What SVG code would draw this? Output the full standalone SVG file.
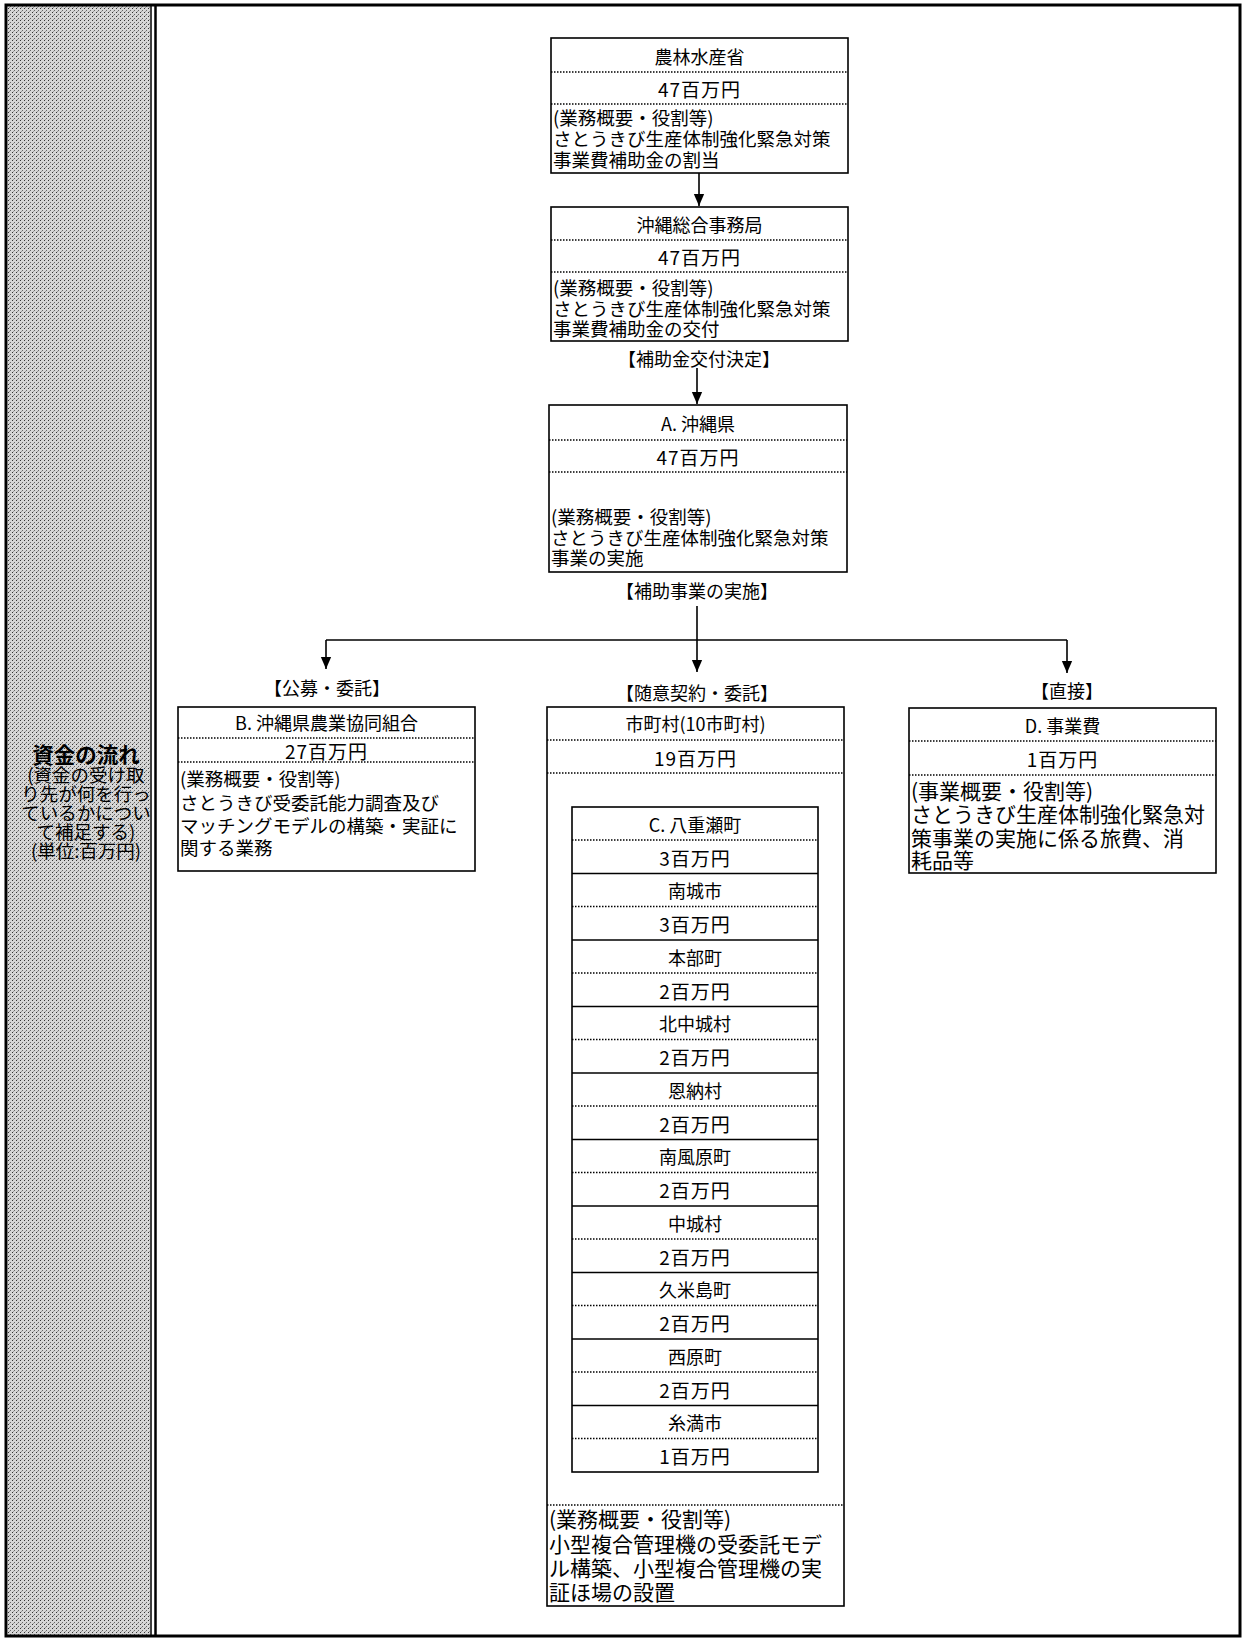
<svg xmlns="http://www.w3.org/2000/svg" width="1245" height="1641" viewBox="0 0 1245 1641">
<defs>
<pattern id="halftone" width="4" height="4" patternUnits="userSpaceOnUse">
<rect width="4" height="4" fill="#d6d6d6"/>
<rect x="0" y="0" width="1" height="1" fill="#333"/>
<rect x="2" y="2" width="1" height="1" fill="#666"/>
<rect x="1" y="3" width="1" height="1" fill="#999"/>
</pattern>
<marker id="arrd" markerUnits="userSpaceOnUse" markerWidth="12" markerHeight="14" viewBox="0 0 14 12" refX="14" refY="6" orient="auto">
<path d="M0,0 L14,6 L0,12 Z" fill="#000"/>
</marker>
</defs>
<style>
.box{fill:#fff;stroke:#000;stroke-width:1.6}
.dot{stroke:#000;stroke-width:1.3;stroke-dasharray:1.5 1.5;fill:none}
.sep{stroke:#000;stroke-width:1.6;fill:none}
.con{stroke:#000;stroke-width:1.6;fill:none}
text{font-family:"Noto Sans CJK JP","Noto Sans CJK SC",sans-serif;fill:#000}
.t{font-size:18px;text-anchor:middle;dominant-baseline:central}
.m{font-size:19px;text-anchor:middle;dominant-baseline:central;letter-spacing:1px}
.d{font-size:18.5px;dominant-baseline:central}
.dl{font-size:21px;dominant-baseline:central}
.lab{font-size:18px;text-anchor:middle;dominant-baseline:central}
.side{font-size:18.5px;text-anchor:middle;dominant-baseline:central}
</style>
<rect width="1245" height="1641" fill="#fff"/>
<g id="frame">
<rect x="8" y="6" width="142" height="1629" fill="url(#halftone)"/>
<rect x="6" y="5" width="1234" height="1631" fill="none" stroke="#000" stroke-width="3"/>
<line x1="151" y1="5" x2="151" y2="1636" stroke="#000" stroke-width="1.5"/>
<line x1="155.5" y1="5" x2="155.5" y2="1636" stroke="#000" stroke-width="2.5"/>
</g>
<g id="side-label">
<text class="side" x="86" y="753" style="font-weight:bold;font-size:21.5px">資金の流れ</text>
<text class="side" x="86" y="774">(資金の受け取</text>
<text class="side" x="86" y="793">り先が何を行っ</text>
<text class="side" x="86" y="812">ているかについ</text>
<text class="side" x="86" y="831">て補足する)</text>
<text class="side" x="86" y="850">(単位:百万円)</text>
</g>
<g id="connectors">
<line class="con" x1="699" y1="173" x2="699" y2="206" marker-end="url(#arrd)"/>
<line class="con" x1="697" y1="368" x2="697" y2="404" marker-end="url(#arrd)"/>
<line class="con" x1="697" y1="606" x2="697" y2="672" marker-end="url(#arrd)"/>
<line class="con" x1="326" y1="640" x2="1067" y2="640"/>
<line class="con" x1="326" y1="640" x2="326" y2="669" marker-end="url(#arrd)"/>
<line class="con" x1="1067" y1="640" x2="1067" y2="673" marker-end="url(#arrd)"/>
<text class="lab" x="699" y="358">【補助金交付決定】</text>
<text class="lab" x="697" y="590">【補助事業の実施】</text>
<text class="lab" x="327" y="687">【公募・委託】</text>
<text class="lab" x="697" y="692">【随意契約・委託】</text>
<text class="lab" x="1067" y="690">【直接】</text>
</g>
<g id="maff">
<rect class="box" x="551" y="38" width="297" height="135"/>
<line class="dot" x1="551" y1="72" x2="848" y2="72"/>
<line class="dot" x1="551" y1="104" x2="848" y2="104"/>
<text class="t" x="699.5" y="56">農林水産省</text>
<text class="m" x="699.5" y="88">47百万円</text>
<text class="d" x="553" y="117">(業務概要・役割等)</text>
<text class="d" x="553" y="138">さとうきび生産体制強化緊急対策</text>
<text class="d" x="553" y="159">事業費補助金の割当</text>
</g>
<g id="okinawa-bureau">
<rect class="box" x="551" y="207" width="297" height="134"/>
<line class="dot" x1="551" y1="240" x2="848" y2="240"/>
<line class="dot" x1="551" y1="272" x2="848" y2="272"/>
<text class="t" x="699.5" y="224">沖縄総合事務局</text>
<text class="m" x="699.5" y="256">47百万円</text>
<text class="d" x="553" y="287">(業務概要・役割等)</text>
<text class="d" x="553" y="308">さとうきび生産体制強化緊急対策</text>
<text class="d" x="553" y="328">事業費補助金の交付</text>
</g>
<g id="a-okinawa">
<rect class="box" x="549" y="405" width="298" height="167"/>
<line class="dot" x1="549" y1="440" x2="847" y2="440"/>
<line class="dot" x1="549" y1="472" x2="847" y2="472"/>
<text class="t" x="698" y="423">A. 沖縄県</text>
<text class="m" x="698" y="456">47百万円</text>
<text class="d" x="551" y="516">(業務概要・役割等)</text>
<text class="d" x="551" y="537">さとうきび生産体制強化緊急対策</text>
<text class="d" x="551" y="557">事業の実施</text>
</g>
<g id="b-ja">
<rect class="box" x="178" y="707" width="297" height="164"/>
<line class="dot" x1="178" y1="738" x2="475" y2="738"/>
<line class="dot" x1="178" y1="762" x2="475" y2="762"/>
<text class="t" x="326.5" y="722">B. 沖縄県農業協同組合</text>
<text class="m" x="326.5" y="750">27百万円</text>
<text class="d" x="180" y="778">(業務概要・役割等)</text>
<text class="d" x="180" y="802">さとうきび受委託能力調査及び</text>
<text class="d" x="180" y="825">マッチングモデルの構築・実証に</text>
<text class="d" x="180" y="847">関する業務</text>
</g>
<g id="c-municipalities">
<rect class="box" x="547" y="707" width="297" height="899"/>
<line class="dot" x1="547" y1="740" x2="844" y2="740"/>
<line class="dot" x1="547" y1="773" x2="844" y2="773"/>
<line class="dot" x1="547" y1="1505" x2="844" y2="1505"/>
<text class="t" x="695.5" y="723">市町村(10市町村)</text>
<text class="m" x="695.5" y="757">19百万円</text>
<text class="dl" x="549" y="1518">(業務概要・役割等)</text>
<text class="dl" x="549" y="1543">小型複合管理機の受委託モデ</text>
<text class="dl" x="549" y="1567">ル構築、小型複合管理機の実</text>
<text class="dl" x="549" y="1591">証ほ場の設置</text>
</g>
<g id="c-list">
<rect class="box" x="572" y="807" width="246" height="665"/>
<line class="dot" x1="572" y1="840" x2="818" y2="840"/>
<line class="sep" x1="572" y1="873.5" x2="818" y2="873.5"/>
<line class="dot" x1="572" y1="906.5" x2="818" y2="906.5"/>
<line class="sep" x1="572" y1="940" x2="818" y2="940"/>
<line class="dot" x1="572" y1="973" x2="818" y2="973"/>
<line class="sep" x1="572" y1="1006.5" x2="818" y2="1006.5"/>
<line class="dot" x1="572" y1="1039.5" x2="818" y2="1039.5"/>
<line class="sep" x1="572" y1="1073" x2="818" y2="1073"/>
<line class="dot" x1="572" y1="1106" x2="818" y2="1106"/>
<line class="sep" x1="572" y1="1139.5" x2="818" y2="1139.5"/>
<line class="dot" x1="572" y1="1172.5" x2="818" y2="1172.5"/>
<line class="sep" x1="572" y1="1206" x2="818" y2="1206"/>
<line class="dot" x1="572" y1="1239" x2="818" y2="1239"/>
<line class="sep" x1="572" y1="1272.5" x2="818" y2="1272.5"/>
<line class="dot" x1="572" y1="1305.5" x2="818" y2="1305.5"/>
<line class="sep" x1="572" y1="1339" x2="818" y2="1339"/>
<line class="dot" x1="572" y1="1372" x2="818" y2="1372"/>
<line class="sep" x1="572" y1="1405.5" x2="818" y2="1405.5"/>
<line class="dot" x1="572" y1="1438.5" x2="818" y2="1438.5"/>
<text class="t" x="695" y="823.5">C. 八重瀬町</text>
<text class="m" x="695" y="857">3百万円</text>
<text class="t" x="695" y="890">南城市</text>
<text class="m" x="695" y="923.5">3百万円</text>
<text class="t" x="695" y="956.5">本部町</text>
<text class="m" x="695" y="990">2百万円</text>
<text class="t" x="695" y="1023">北中城村</text>
<text class="m" x="695" y="1056.5">2百万円</text>
<text class="t" x="695" y="1089.5">恩納村</text>
<text class="m" x="695" y="1123">2百万円</text>
<text class="t" x="695" y="1156">南風原町</text>
<text class="m" x="695" y="1189.5">2百万円</text>
<text class="t" x="695" y="1222.5">中城村</text>
<text class="m" x="695" y="1256">2百万円</text>
<text class="t" x="695" y="1289">久米島町</text>
<text class="m" x="695" y="1322.5">2百万円</text>
<text class="t" x="695" y="1355.5">西原町</text>
<text class="m" x="695" y="1389">2百万円</text>
<text class="t" x="695" y="1422">糸満市</text>
<text class="m" x="695" y="1455.5">1百万円</text>
</g>
<g id="d-expenses">
<rect class="box" x="909" y="708" width="307" height="165"/>
<line class="dot" x1="909" y1="741" x2="1216" y2="741"/>
<line class="dot" x1="909" y1="775" x2="1216" y2="775"/>
<text class="t" x="1062.5" y="725">D. 事業費</text>
<text class="m" x="1062.5" y="758">1百万円</text>
<text class="dl" x="911" y="790">(事業概要・役割等)</text>
<text class="dl" x="911" y="813">さとうきび生産体制強化緊急対</text>
<text class="dl" x="911" y="837">策事業の実施に係る旅費、消</text>
<text class="dl" x="911" y="859">耗品等</text>
</g>
</svg>
